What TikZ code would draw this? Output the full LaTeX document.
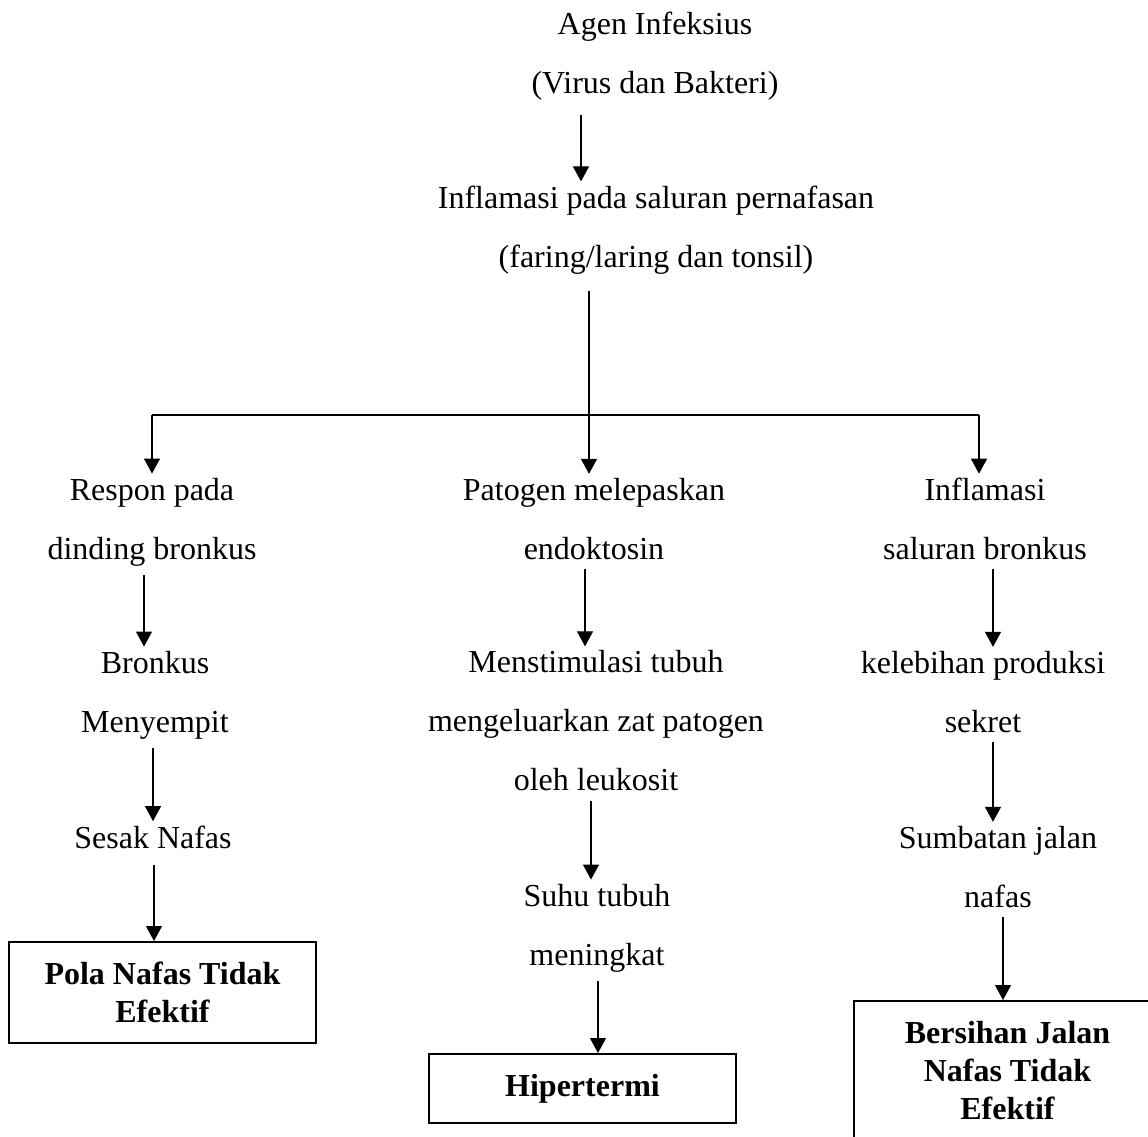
\documentclass[tikz,border=0pt]{standalone}
\usepackage{fontspec}
\setmainfont{Liberation Serif}
\usetikzlibrary{arrows.meta}

\tikzset{
  txt/.style={align=center, inner sep=2pt, font=\fontsize{16pt}{29.5pt}\selectfont},
  hasil/.style={draw, line width=1.1pt, anchor=north, align=center, minimum width=153.5pt,
    inner xsep=4pt, inner ysep=10pt, font=\fontsize{16pt}{19pt}\selectfont\bfseries},
  panah/.style={-{Triangle[width=8pt,length=7.5pt]}, line width=0.6pt, shorten <=2.5pt},
  garis/.style={line width=0.6pt}
}

\begin{document}
\begin{tikzpicture}[x=0.5pt,y=-0.5pt]
  \useasboundingbox (0,0) rectangle (1148,1137);
  % x of the arrows
  \path (581,0) coordinate (p1)
        (144,0) coordinate (k1) (153,0) coordinate (k2) (154,0) coordinate (k3)
        (585,0) coordinate (t1) (591,0) coordinate (t2) (598,0) coordinate (t3)
        (993,0) coordinate (n1) (993,0) coordinate (n2) (1003,0) coordinate (n3);
  % top
  \node[txt] (agen) at (655,56) {Agen Infeksius\\(Virus dan Bakteri)};
  \node[txt] (infl) at (656,230) {Inflamasi pada saluran pernafasan\\(faring/laring dan tonsil)};
  \coordinate (cab) at (589,415);
  \coordinate (cabL) at (152,415);
  \coordinate (cabR) at (979,415);
  % left
  \node[txt] (resp) at (152,522) {Respon pada\\dinding bronkus};
  \node[txt] (bronk) at (155,695) {Bronkus\\Menyempit};
  \node[txt] (sesak) at (153,837) {Sesak Nafas};
  \node[hasil] (pola) at (162.5,941) {Pola Nafas Tidak\\Efektif};
  % middle
  \node[txt] (pato) at (594,519) {Patogen melepaskan\\endoktosin};
  \node[txt] (stim) at (596,721) {Menstimulasi tubuh\\mengeluarkan zat patogen\\oleh leukosit};
  \node[txt] (suhu) at (597,928) {Suhu tubuh\\meningkat};
  \node[hasil] (hiper) at (582.5,1053) {Hipertermi};
  % right
  \node[txt] (infb) at (985,519) {Inflamasi\\saluran bronkus};
  \node[txt] (keleb) at (983,692) {kelebihan produksi\\sekret};
  \node[txt] (sumb) at (998,867) {Sumbatan jalan\\nafas};
  \node[hasil, text depth=7pt] (bersih) at (1007.5,1000) {Bersihan Jalan\\Nafas Tidak\\Efektif};

  \draw[panah, shorten <=5pt] (agen.south -| p1) -- (infl.north -| p1);
  \draw[garis, shorten <=6pt] (infl.south -| cab) -- (cab);
  \draw[garis] (cabL) -- (cabR);
  \draw[panah, shorten <=0pt] (cabL) -- (resp.north -| cabL);
  \draw[panah, shorten <=0pt] (cab) -- (pato.north -| cab);
  \draw[panah, shorten <=0pt] (cabR) -- (infb.north -| cabR);

  \draw[panah] (resp.south -| k1) -- (bronk.north -| k1);
  \draw[panah] (bronk.south -| k2) -- (sesak.north -| k2);
  \draw[panah, shorten <=6pt] (sesak.south -| k3) -- (pola.north -| k3);

  \draw[panah] (pato.south -| t1) -- (stim.north -| t1);
  \draw[panah] (stim.south -| t2) -- (suhu.north -| t2);
  \draw[panah] (suhu.south -| t3) -- (hiper.north -| t3);

  \draw[panah] (infb.south -| n1) -- (keleb.north -| n1);
  \draw[panah] (keleb.south -| n2) -- (sumb.north -| n2);
  \draw[panah] (sumb.south -| n3) -- (bersih.north -| n3);
\end{tikzpicture}
\end{document}
